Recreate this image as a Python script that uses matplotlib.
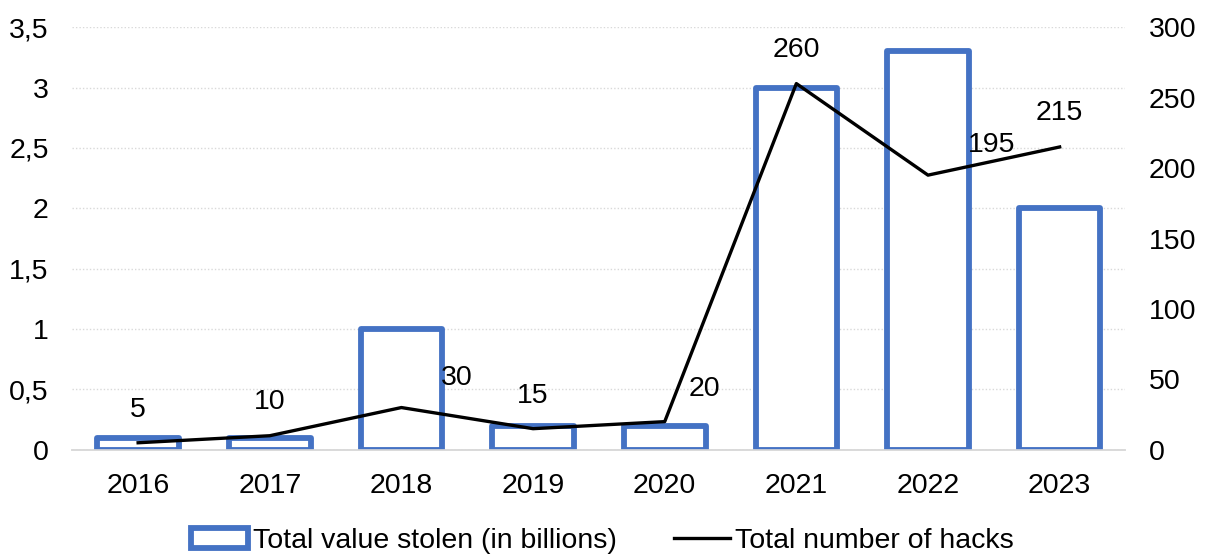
import numpy as np
import matplotlib
matplotlib.use("Agg")
import matplotlib.pyplot as plt

plt.rcParams['font.family'] = ['Liberation Sans', 'DejaVu Sans']

years = ['2016', '2017', '2018', '2019', '2020', '2021', '2022', '2023']
value_stolen = [0.1, 0.1, 1.0, 0.2, 0.2, 3.0, 3.3, 2.0]   # billions
num_hacks = [5, 10, 30, 15, 20, 260, 195, 215]
left_ticks = [0, 0.5, 1, 1.5, 2, 2.5, 3, 3.5]
left_labels = ['0', '0,5', '1', '1,5', '2', '2,5', '3', '3,5']
right_ticks = [0, 50, 100, 150, 200, 250, 300]

# label offsets in pixels (dx, dy) relative to each line point
label_offsets = [(0, 33), (0, 34), (55, 30), (0, 33), (40, 33), (0, 34), (64, 30), (0, 34)]

blue = '#4472C4'
grid_c = '#D9D9D9'
fs = 20.5

fig = plt.figure(figsize=(12.05, 5.56), dpi=100)
ax = fig.add_axes([0.06, 0.191, 0.874, 0.76])
ax2 = ax.twinx()

x = np.arange(len(years))
ax.bar(x, value_stolen, width=0.62, facecolor='white', edgecolor=blue,
       linewidth=4.2, joinstyle='round', zorder=3, label='Total value stolen (in billions)')
ax.set_ylim(0, 3.5)
ax.set_xlim(-0.5, len(years) - 0.5)
ax.set_yticks(left_ticks)
ax.set_yticklabels(left_labels)
ax.set_xticks(x)
ax.set_xticklabels(years)
ax.grid(axis='y', color=grid_c, linestyle=(0, (1, 1.5)), linewidth=1, zorder=0)
ax.set_axisbelow(True)

ax2.plot(x, num_hacks, color='black', linewidth=2.4, zorder=4, label='Total number of hacks')
ax2.set_ylim(0, 300)
ax2.set_yticks(right_ticks)

for xi, v, (dx, dy) in zip(x, num_hacks, label_offsets):
    ax2.annotate(str(v), (xi, v), xytext=(dx, dy), textcoords='offset pixels',
                 ha='center', va='center', fontsize=fs)

for a in (ax, ax2):
    for s in ('top', 'left', 'right'):
        a.spines[s].set_visible(False)
    a.spines['bottom'].set_color(grid_c)
    a.spines['bottom'].set_linewidth(1.2)
    a.tick_params(length=0, labelsize=fs)
ax.tick_params(axis='y', pad=17)
ax.tick_params(axis='x', pad=17)
ax2.tick_params(axis='y', pad=17)
for lab in ax2.get_yticklabels():
    lab.set_horizontalalignment('left')

h1, l1 = ax.get_legend_handles_labels()
h2, l2 = ax2.get_legend_handles_labels()
fig.legend(h1 + h2, l1 + l2, loc='center', bbox_to_anchor=(0.5, 0.027), ncol=2,
           frameon=False, fontsize=fs, handlelength=2.0, handletextpad=0.15, columnspacing=2.0)

fig.savefig('out.png', dpi=100)
